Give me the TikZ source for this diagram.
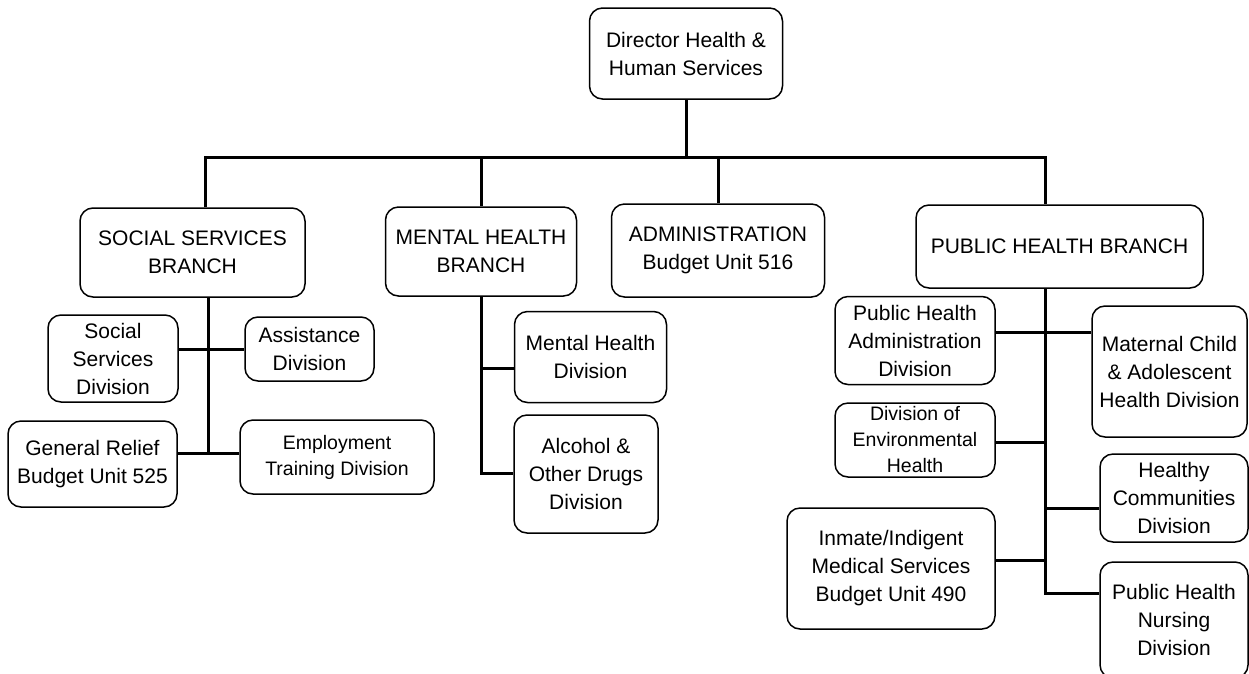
\documentclass[tikz,border=0pt]{standalone}
\usepackage{fontspec}
\setmainfont{Liberation Sans}
\usetikzlibrary{calc}

\begin{document}
\begin{tikzpicture}[x=1pt, y=-1pt,
		unit/.style = {draw, line width=1.5pt, rounded corners=13pt, align=center, inner sep=0pt, font=\fontsize{21}{28}\selectfont},
		small/.style = {font=\fontsize{19.5}{26}\selectfont},
		link/.style = {line width=3pt}]
			\useasboundingbox (0,0) rectangle (1249,673);
			\clip (0,0) rectangle (1249,673);
			
			% director and branches
			\node [unit, minimum width=193pt, minimum height=91pt] (dir) at (686,53.5) {Director Health \&\\Human Services};
			\node [unit, minimum width=225pt, minimum height=89pt] (ssb) at (192.5,252.5) {SOCIAL SERVICES\\BRANCH};
			\node [unit, minimum width=191pt, minimum height=89pt] (mhb) at (481,251.5) {MENTAL HEALTH\\BRANCH};
			\node [unit, minimum width=213pt, minimum height=93pt] (adm) at (718,250.5) {ADMINISTRATION\\Budget Unit 516};
			\node [unit, minimum width=287pt, minimum height=83pt] (phb) at (1059.5,246.5) {PUBLIC HEALTH BRANCH};
			
			% social services
			\node [unit, minimum width=130pt, minimum height=87pt] (ssd) at (113,358.5) {Social\\Services\\Division};
			\node [unit, minimum width=129pt, minimum height=64pt] (asd) at (309.5,349) {Assistance\\Division};
			\node [unit, minimum width=169pt, minimum height=86pt] (grb) at (92.5,464) {General Relief\\Budget Unit 525};
			\node [unit, small, minimum width=194pt, minimum height=74pt] (etd) at (337,457) {Employment\\Training Division};
			
			% mental health
			\node [unit, minimum width=152pt, minimum height=91pt] (mhd) at (590.5,357) {Mental Health\\Division};
			\node [unit, minimum width=144pt, minimum height=118pt] (aod) at (586,474) {Alcohol \&\\Other Drugs\\Division};
			
			% public health
			\node [unit, minimum width=160pt, minimum height=88pt] (pha) at (915,340.5) {Public Health\\Administration\\Division};
			\node [unit, minimum width=155pt, minimum height=131pt] (mca) at (1169.5,371.5) {Maternal Child\\\& Adolescent\\Health Division};
			\node [unit, small, minimum width=160pt, minimum height=74pt] (dee) at (915,440) {Division of\\Environmental\\Health};
			\node [unit, minimum width=148pt, minimum height=88pt] (hcd) at (1174,498) {Healthy\\Communities\\Division};
			\node [unit, minimum width=208pt, minimum height=121pt] (imb) at (891,568.5) {Inmate/Indigent\\Medical Services\\Budget Unit 490};
			\node [unit, minimum width=148pt, minimum height=116pt] (phn) at (1174,620) {Public Health\\Nursing\\Division};
			
			% junctions
			\coordinate (barL) at (205,157);
			\coordinate (barR) at (1045,157);
			\coordinate (ssj) at (208,349);
			\coordinate (grj) at (208,453);
			\coordinate (mhj) at (481,368);
			\coordinate (aoj) at (481,473);
			\coordinate (phj1) at (1045,332);
			\coordinate (phj2) at (1045,442);
			\coordinate (phj3) at (1045,508);
			\coordinate (phj4) at (1045,560);
			\coordinate (phj5) at (1045,593);
			
			\begin{scope}[link]
				\draw (dir.south) -- (dir.south |- barL);
				\draw (barL |- ssb.north) -- (barL) -- (barR) -- (barR |- phb.north);
				\draw (mhb.north) -- (mhb.north |- barL);
				\draw (adm.north) -- (adm.north |- barL);
				
				\draw (ssb.south -| grj) -- (grj);
				\draw (ssd.east |- ssj) -- (asd.west |- ssj);
				\draw (grb.east |- grj) -- (etd.west |- grj);
				
				\draw (mhb.south) -- (aoj) -- (aoj -| aod.west);
				\draw (mhj) -- (mhj -| mhd.west);
				
				\draw (phb.south -| phj5) -- (phj5) -- (phj5 -| phn.west);
				\draw (pha.east |- phj1) -- (mca.west |- phj1);
				\draw (dee.east |- phj2) -- (phj2);
				\draw (phj3) -- (phj3 -| hcd.west);
				\draw (imb.east |- phj4) -- (phj4);
			\end{scope}
		\end{tikzpicture}
\end{document}
